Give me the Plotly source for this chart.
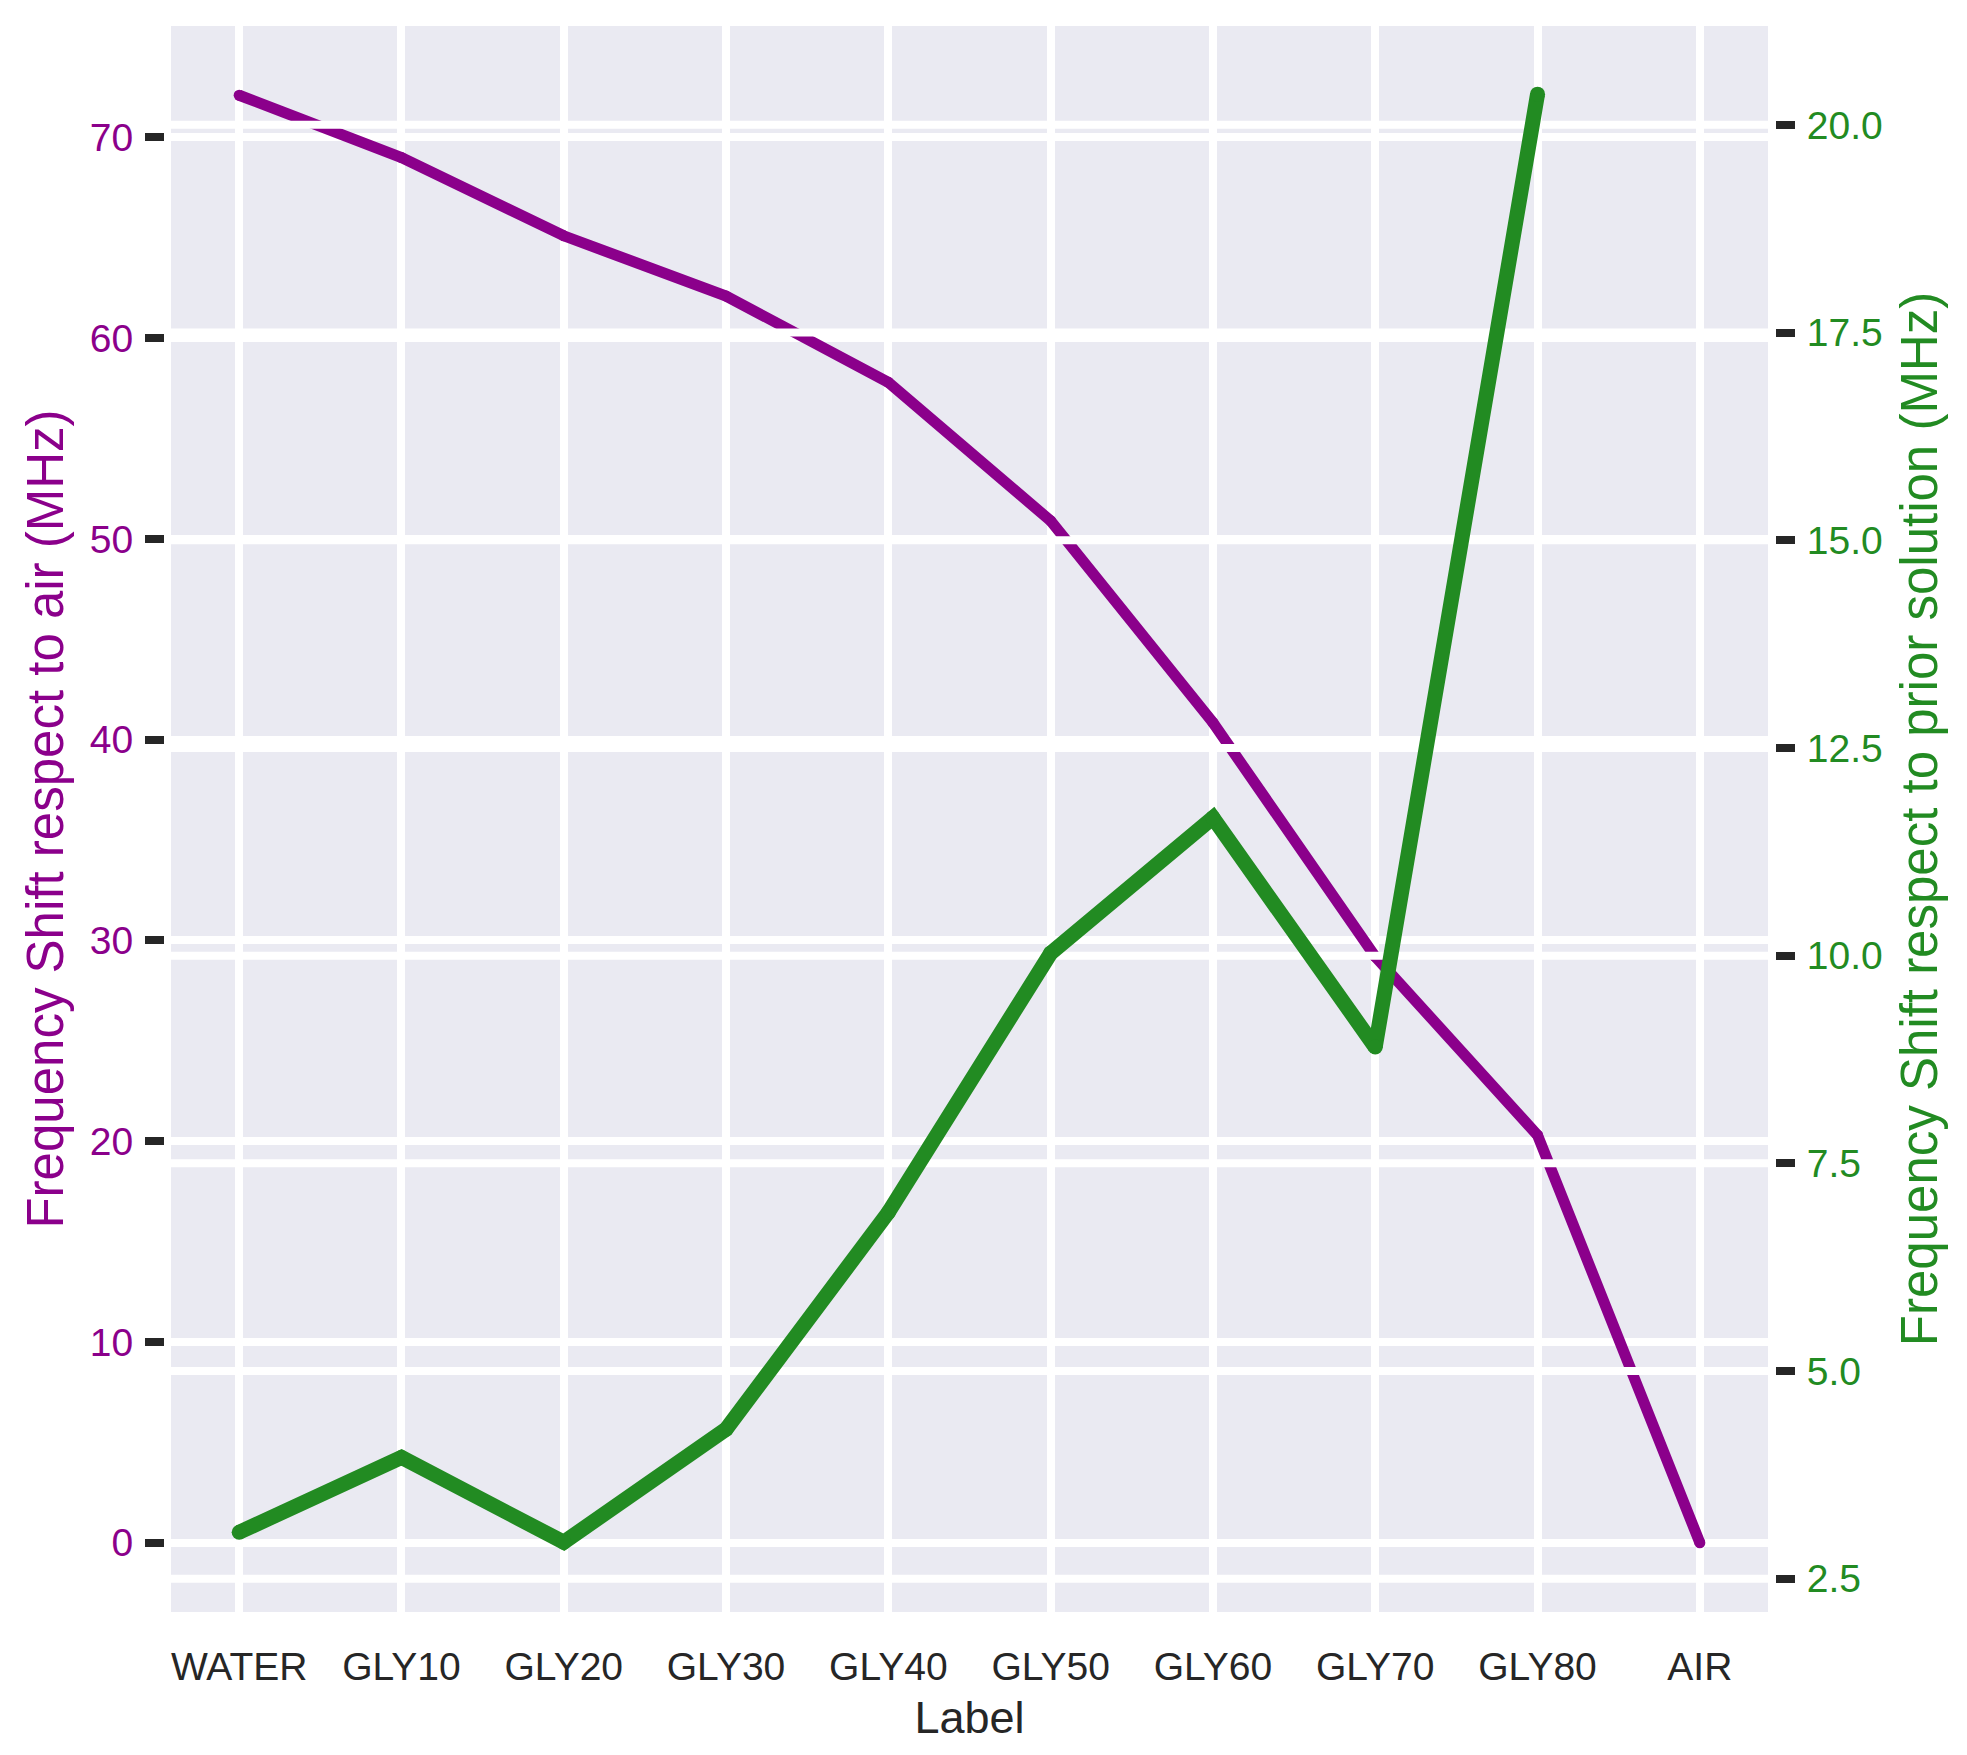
import plotly.graph_objects as go

labels = ["WATER", "GLY10", "GLY20", "GLY30", "GLY40", "GLY50", "GLY60", "GLY70", "GLY80", "AIR"]
shift_air = [72.1, 69.0, 65.1, 62.1, 57.8, 50.9, 40.85, 29.2, 20.3, 0.0]
shift_prior = [3.06, 3.96, 2.94, 4.30, 6.91, 10.03, 11.66, 8.90, 20.37, None]

left_ticks = [0, 10, 20, 30, 40, 50, 60, 70]
right_ticks = [2.5, 5.0, 7.5, 10.0, 12.5, 15.0, 17.5, 20.0]

PURPLE = "#8B008B"
GREEN = "#228B22"
DARK = "#262626"
FONT = "Liberation Sans, Arial, sans-serif"

W, H = 1967, 1755
ml, mr = 164, 192
pw = W - ml - mr
gap = 7 / pw

x = list(range(len(labels)))

fig = go.Figure()

# purple: shift with respect to air (left axis)
# small markers at the vertices give the rounded joins/caps of the original
fig.add_trace(go.Scatter(x=x, y=shift_air, mode="lines+markers", yaxis="y",
                         line=dict(color=PURPLE, width=11),
                         marker=dict(color=PURPLE, size=11, line=dict(width=0)),
                         showlegend=False))

# twin-axis grid is drawn above the first line (like matplotlib twinx)
gx, gy = [], []
for t in right_ticks:
    gx += [-1, len(labels), None]
    gy += [t, t, None]
fig.add_trace(go.Scatter(x=gx, y=gy, mode="lines", yaxis="y2", hoverinfo="skip",
                         line=dict(color="white", width=8), showlegend=False))

# green: shift with respect to prior solution (right axis)
fig.add_trace(go.Scatter(x=x, y=shift_prior, mode="lines+markers", yaxis="y2",
                         line=dict(color=GREEN, width=15),
                         marker=dict(color=GREEN, size=15, line=dict(width=0)),
                         showlegend=False))

fig.update_layout(
    template="none",
    width=W, height=H,
    margin=dict(l=ml, r=mr, t=26, b=143),
    paper_bgcolor="white",
    plot_bgcolor="#EAEAF2",
    font=dict(family=FONT, size=39, color=DARK),
    xaxis=dict(
        domain=[gap, 1 - gap],
        range=[-0.42, 9.42],
        tickmode="array", tickvals=x, ticktext=labels,
        ticks="", showline=False, zeroline=False,
        showgrid=True, gridcolor="white", gridwidth=8,
        tickfont=dict(size=39, color=DARK),
        ticklabelstandoff=28,
        title=dict(text="Label", font=dict(size=45, color=DARK), standoff=14),
        automargin=False,
    ),
    yaxis=dict(
        anchor="free", position=0,
        range=[-3.45, 75.55],
        tickmode="array", tickvals=left_ticks,
        ticks="outside", ticklen=19, tickwidth=8, tickcolor=DARK,
        ticklabelstandoff=4,
        showline=False, zeroline=False,
        showgrid=True, gridcolor="white", gridwidth=8,
        tickfont=dict(size=39, color=PURPLE),
        title=dict(text="Frequency Shift respect to air (MHz)",
                   font=dict(size=51, color=PURPLE), standoff=8),
        automargin=False,
    ),
    yaxis2=dict(
        anchor="free", position=1, overlaying="y", side="right",
        range=[2.10, 21.19],
        tickmode="array", tickvals=right_ticks, tickformat=".1f",
        ticks="outside", ticklen=19, tickwidth=8, tickcolor=DARK,
        ticklabelstandoff=4,
        showline=False, zeroline=False, showgrid=False,
        tickfont=dict(size=39, color=GREEN),
        title=dict(text="Frequency Shift respect to prior solution (MHz)",
                   font=dict(size=51, color=GREEN), standoff=19),
        automargin=False,
    ),
)

fig.write_html("out.html", config={"displayModeBar": False},
               post_script="document.body.style.margin='0';document.body.style.overflow='hidden';")
